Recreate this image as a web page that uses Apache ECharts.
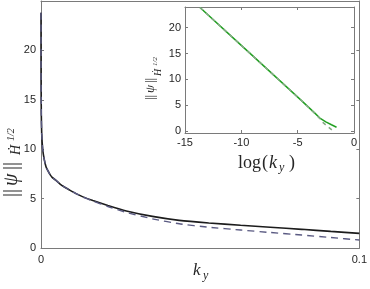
<!DOCTYPE html>
<html><head><meta charset="utf-8">
<script src="https://cdn.jsdelivr.net/npm/echarts@6/dist/echarts.min.js"></script>
<style>html,body{margin:0;padding:0;background:#fff}#c{width:370px;height:289px}</style>
</head><body><div id="c"></div>
<script>
// Main plot data
const kyMain = [0.000001, 0.00002, 0.0001, 0.00022, 0.00053, 0.001, 0.0016, 0.0022, 0.0028, 0.0035, 0.0047, 0.0059, 0.0072, 0.0088, 0.011, 0.013, 0.0163, 0.021, 0.0268, 0.035, 0.0434, 0.0527, 0.0627, 0.072, 0.0819, 0.091, 0.1];
const normSolid = [23.8, 17.0, 13.5, 11.6, 10.0, 9.0, 8.2, 7.8, 7.45, 7.15, 6.85, 6.5, 6.2, 5.9, 5.5, 5.2, 4.8, 4.3, 3.75, 3.2, 2.8, 2.53, 2.3, 2.1, 1.89, 1.68, 1.48];
const normDashed = [23.8, 17.0, 13.5, 11.6, 10.0, 9.0, 8.2, 7.8, 7.45, 7.15, 6.85, 6.5, 6.2, 5.9, 5.5, 5.18, 4.75, 4.2, 3.6, 2.95, 2.45, 2.1, 1.82, 1.57, 1.31, 1.06, 0.81];
const mainYTicks = [0, 5, 10, 15, 20];
// Inset data (log scale of ky)
const logKySolid = [-13.67, -11, -9.25, -7, -4.8, -3.5, -3.03, -2.5, -2.0, -1.55];
const insetSolid = [23.9, 18.55, 15.06, 10.56, 6.16, 3.5, 2.5, 1.75, 1.2, 0.72];
const logKyDashed = [-13.67, -11, -9.25, -7, -4.8, -3.5, -3.0, -2.74, -1.7];
const insetDashed = [23.9, 18.55, 15.06, 10.56, 6.16, 3.45, 2.3, 1.6, -0.3];
const insetYTicks = [0, 5, 10, 15, 20];

const zip = (a, b) => a.map((v, i) => [v, b[i]]);
const AX = '#7a7a7a', TXT = '#262626';
const sans = 'Liberation Sans, Arial, sans-serif';
const serif = 'Liberation Serif, DejaVu Serif, serif';

function boxAxes(grid, min, max, opt) {
  return Object.assign({
    type: 'value', gridIndex: grid, min: min, max: max,
    axisLine: {show: true, onZero: false, lineStyle: {color: AX, width: 1}},
    axisTick: {show: true, inside: true, length: 3, lineStyle: {color: AX}},
    splitLine: {show: false},
    axisLabel: {show: false}
  }, opt);
}
function t(x, y, text, font, extra) {
  return Object.assign({type: 'text', x: x, y: y, style: {text: text, font: font, fill: TXT, verticalAlign: 'middle', align: 'left'}}, extra || {});
}

const chart = echarts.init(document.getElementById('c'), null, {renderer: 'canvas'});
chart.setOption({
  animation: false,
  backgroundColor: '#fff',
  grid: [
    {left: 41, right: 9, top: 1, bottom: 41},
    {left: 185, right: 16, top: 7, bottom: 156, show: true, backgroundColor: '#fff', borderWidth: 0, z: 5}
  ],
  xAxis: [
    boxAxes(0, 0, 0.1, {interval: 0.1, position: 'bottom',
      axisLabel: {show: true, color: TXT, fontFamily: sans, fontSize: 11, margin: 6,
        formatter: v => v === 0 ? '0' : String(+v.toFixed(2))}}),
    boxAxes(0, 0, 0.1, {interval: 0.1, position: 'top'}),
    boxAxes(1, -15, 0, {interval: 5, position: 'bottom', z: 6,
      axisLabel: {show: true, color: TXT, fontFamily: sans, fontSize: 11, margin: 4}}),
    boxAxes(1, -15, 0, {interval: 5, position: 'top', z: 6})
  ],
  yAxis: [
    boxAxes(0, 0, 25, {interval: 5, position: 'left', axisTick: {show: true, inside: true, length: 3, lineStyle: {color: AX}, customValues: mainYTicks},
      axisLabel: {show: true, color: TXT, fontFamily: sans, fontSize: 11, margin: 5, customValues: mainYTicks}}),
    boxAxes(0, 0, 25, {interval: 5, position: 'right', axisTick: {show: true, inside: true, length: 3, lineStyle: {color: AX}, customValues: mainYTicks}}),
    boxAxes(1, -0.4, 24, {position: 'left', z: 6, axisTick: {show: true, inside: true, length: 3, lineStyle: {color: AX}, customValues: insetYTicks},
      axisLabel: {show: true, color: TXT, fontFamily: sans, fontSize: 11, margin: 4, customValues: insetYTicks}}),
    boxAxes(1, -0.4, 24, {position: 'right', z: 6, axisTick: {show: true, inside: true, length: 3, lineStyle: {color: AX}, customValues: insetYTicks}})
  ],
  series: [
    {type: 'line', xAxisIndex: 0, yAxisIndex: 0, data: zip(kyMain, normSolid), showSymbol: false, smooth: 0.15,
      lineStyle: {color: '#1c1c1c', width: 1.6}},
    {type: 'line', xAxisIndex: 0, yAxisIndex: 0, data: zip(kyMain, normDashed), showSymbol: false, smooth: 0.15,
      lineStyle: {color: '#5a5a82', width: 1.4, type: [7, 5]}},
    {type: 'line', xAxisIndex: 2, yAxisIndex: 2, data: zip(logKySolid, insetSolid), showSymbol: false, smooth: false, z: 7,
      lineStyle: {color: '#22a022', width: 1.5}},
    {type: 'line', xAxisIndex: 2, yAxisIndex: 2, data: zip(logKyDashed, insetDashed), showSymbol: false, smooth: false, z: 7,
      lineStyle: {color: '#86ab86', width: 1.5, type: [4, 4]}}
  ],
  graphic: [
    // main y label (rotated; local x = -screenY, local y = screenX)
    {type: 'group', x: 0, y: 0, rotation: Math.PI / 2, children: [
      t(-197, 12, '||', '20px ' + serif),
      t(-186, 12, 'ψ', 'italic 20px ' + serif),
      t(-170, 12, '||', '20px ' + serif),
      t(-155, 16, 'Ḣ', 'italic 14px ' + serif),
      t(-141, 11.5, '1/2', 'italic 10px ' + serif)
    ]},
    // main x label
    t(193, 271, 'k', 'italic 17px ' + serif),
    t(203, 276, 'y', 'italic 12px ' + serif),
    // inset y label
    {type: 'group', x: 0, y: 0, rotation: Math.PI / 2, z: 10, children: [
      t(-100, 151, '||', '13px ' + serif),
      t(-93, 151, 'ψ', 'italic 13px ' + serif),
      t(-83, 151, '||', '13px ' + serif),
      t(-76, 158.5, 'Ḣ', 'italic 10px ' + serif),
      t(-66, 155.5, '1/2', 'italic 7px ' + serif)
    ]},
    // inset x label
    t(238, 163, 'log', '18px ' + serif, {z: 10}),
    t(262, 163, '(', '18px ' + serif, {z: 10}),
    t(269, 163, 'k', 'italic 18px ' + serif, {z: 10}),
    t(279, 168, 'y', 'italic 12px ' + serif, {z: 10}),
    t(289, 163, ')', '18px ' + serif, {z: 10})
  ]
});
</script></body></html>
